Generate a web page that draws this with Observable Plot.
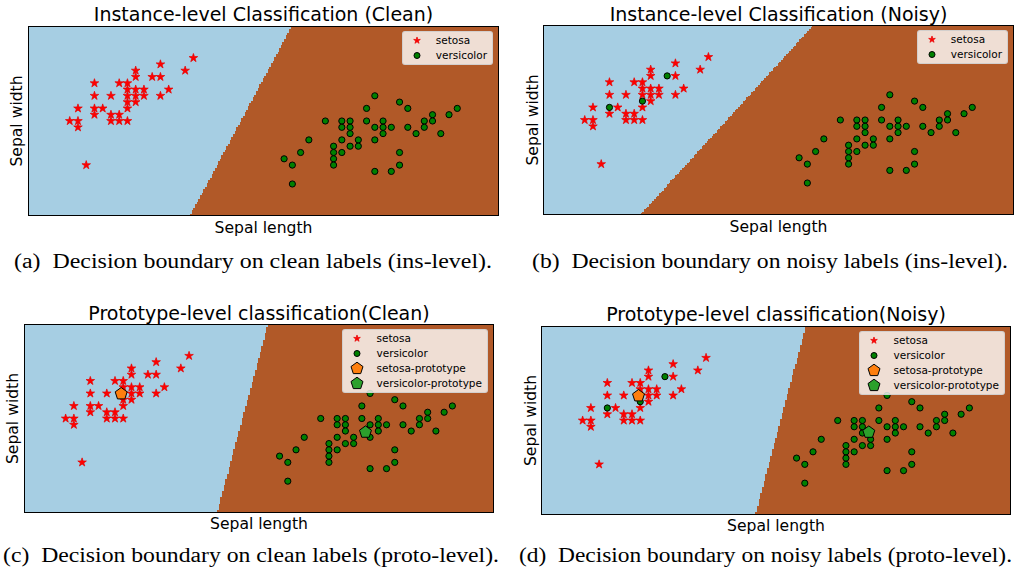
<!DOCTYPE html>
<html><head><meta charset="utf-8">
<script src="https://cdn.jsdelivr.net/npm/d3@7"></script>
<script src="https://cdn.jsdelivr.net/npm/@observablehq/plot@0.6"></script>
<style>
html,body{margin:0;padding:0;background:#fff;}
body{width:1015px;height:569px;overflow:hidden;position:relative;font-family:"DejaVu Sans";}
.panel{position:absolute;}
.panel svg{overflow:visible;}
.legend{position:absolute;background:rgba(255,255,255,0.8);border:1px solid rgba(204,204,204,0.8);border-radius:3px;padding:1px 5px 1px 33px;font:10.5px "DejaVu Sans";color:#000;}
.legend .row{position:relative;height:15px;line-height:15px;white-space:nowrap;}
.legend .row svg{position:absolute;left:-29px;top:0;overflow:visible;}
.caption{position:absolute;font-family:"Liberation Serif","Times New Roman",serif;white-space:pre;color:#000;line-height:1;transform-origin:0 0;}
</style></head><body>
<script>
// ---- data ----
const xDomain = [3.8, 9.5];   // sepal length (plot units)
const yDomain = [1.5, 4.5];   // sepal width
const classes = ["setosa", "versicolor"];
const regionColors = ["#a6cee3", "#b15928"];

const setosaLength = [5.8, 5.4, 5.1, 5.7, 5.1, 5.3, 5.4, 4.6, 4.9, 5.0, 5.0, 5.1, 5.2, 5.5, 4.6, 4.8, 5.0, 5.1, 5.2, 5.4, 5.0, 5.1, 4.4, 4.6, 4.7, 5.0, 4.6, 4.8, 4.9, 4.3, 4.4, 4.8, 4.9, 5.0, 4.4, 4.5];
const setosaWidth  = [4.0, 3.9, 3.8, 3.8, 3.7, 3.7, 3.7, 3.6, 3.6, 3.6, 3.5, 3.5, 3.5, 3.5, 3.4, 3.4, 3.4, 3.4, 3.4, 3.4, 3.3, 3.3, 3.2, 3.2, 3.2, 3.2, 3.1, 3.1, 3.1, 3.0, 3.0, 3.0, 3.0, 3.0, 2.9, 2.3];

const versicolorLength = [8.0, 8.3, 7.9, 8.4, 9.0, 8.7, 8.9, 7.4, 7.6, 7.7, 7.9, 8.1, 8.6, 8.7, 7.6, 7.7, 8.0, 8.1, 8.2, 8.4, 8.6, 7.7, 8.1, 8.5, 8.8, 7.2, 7.6, 7.8, 8.0, 7.5, 7.7, 7.8, 7.1, 7.5, 7.6, 8.3, 6.9, 7.5, 7.0, 7.5, 8.3, 8.0, 8.2, 7.0];
const versicolorWidth  = [3.4, 3.3, 3.2, 3.2, 3.2, 3.1, 3.1, 3.0, 3.0, 3.0, 3.0, 3.0, 3.0, 3.0, 2.9, 2.9, 2.9, 2.9, 2.9, 2.9, 2.9, 2.8, 2.8, 2.8, 2.8, 2.7, 2.7, 2.7, 2.7, 2.6, 2.6, 2.6, 2.5, 2.5, 2.5, 2.5, 2.4, 2.4, 2.3, 2.3, 2.3, 2.2, 2.2, 2.0];

// setosa samples whose label is flipped to versicolor in the noisy panels
const flippedLength = [5.3, 5.0, 4.6];
const flippedWidth  = [3.7, 3.3, 3.2];

// decision boundary: x where the boundary meets the top (y=4.5) and bottom (y=1.5) of the frame
const boundaryTopX    = {a: 6.99, b: 7.07, c: 6.76, d: 7.01};
const boundaryBottomX = {a: 5.76, b: 4.98, c: 6.14, d: 6.40};

// prototypes (panels c, d)
const setosaProto     = {c: [4.975, 3.394], d: [4.979, 3.394]};
const versicolorProto = {c: [7.944, 2.782], d: [7.778, 2.813]};

const titles = {
  a: "Instance-level Classification (Clean)",
  b: "Instance-level Classification (Noisy)",
  c: "Prototype-level classification(Clean)",
  d: "Prototype-level classification(Noisy)"
};
const captions = {
  a: "(a)\u2002Decision boundary on clean labels (ins-level).",
  b: "(b)\u2002Decision boundary on noisy labels (ins-level).",
  c: "(c)\u2002Decision boundary on clean labels (proto-level).",
  d: "(d)\u2002Decision boundary on noisy labels (proto-level)."
};
const xLabel = "Sepal length";
const yLabel = "Sepal width";

// ---- layout ----
const layout = {
  a: {left: 0,   top: 0,   w: 510, h: 240, m: [26, 12, 25, 28], tdy: -11.4, xdy: 12.3, ydx: -11.5, noisy: false, proto: false},
  b: {left: 505, top: 0,   w: 510, h: 240, m: [25, 2, 26, 38],  tdy: -10.4, xdy: 12.7, ydx: -10.7, noisy: true,  proto: false},
  c: {left: 0,   top: 290, w: 510, h: 250, m: [34, 17, 28, 24], tdy: -10.8, xdy: 11.3, ydx: -11.7, noisy: false, proto: true},
  d: {left: 505, top: 290, w: 510, h: 250, m: [36, 5, 26, 36],  tdy: -11.4, xdy: 11.7, ydx: -11.0, noisy: true,  proto: true}
};
const captionPos = {
  a: {left: 14,  base: 268, width: 478},
  b: {left: 532, base: 268, width: 476},
  c: {left: 3,   base: 562, width: 496},
  d: {left: 519, base: 562, width: 493}
};

const pentagon = {
  draw(context, size) {
    const R = Math.sqrt(size / Math.PI);
    for (let i = 0; i < 5; i++) {
      const a = -Math.PI / 2 + i * 2 * Math.PI / 5;
      const x = R * Math.cos(a), y = R * Math.sin(a);
      if (i === 0) context.moveTo(x, y); else context.lineTo(x, y);
    }
    context.closePath();
  }
};

const zip = (xs, ys) => xs.map((x, i) => ({x, y: ys[i]}));
const setosaAll = zip(setosaLength, setosaWidth);
const versiAll = zip(versicolorLength, versicolorWidth);
const flipped = zip(flippedLength, flippedWidth);
const isFlipped = p => flipped.some(f => f.x === p.x && f.y === p.y);

const STAR = {fill: "#ff0000", stroke: "#e60000", strokeWidth: 0.7};
const CIRC = {fill: "#008000", stroke: "#000", strokeWidth: 1};
const MID = {textAnchor: "middle", lineAnchor: "middle", fill: "#000"};

for (const id of ["a", "b", "c", "d"]) {
  const L = layout[id];
  const setosa = L.noisy ? setosaAll.filter(p => !isFlipped(p)) : setosaAll;
  const versi = L.noisy ? versiAll.concat(flipped) : versiAll;
  const xt = boundaryTopX[id], xb = boundaryBottomX[id];
  const bx = y => xb + (xt - xb) * (y - yDomain[0]) / (yDomain[1] - yDomain[0]);
  const marks = [
    Plot.raster({
      x1: xDomain[0], x2: xDomain[1], y1: yDomain[0], y2: yDomain[1],
      width: 285, height: 150, imageRendering: "pixelated",
      fill: (x, y) => (x < bx(y) ? classes[0] : classes[1])
    }),
    Plot.dot(setosa, {x: "x", y: "y", symbol: "star", r: 2.7, ...STAR}),
    Plot.dot(versi, {x: "x", y: "y", symbol: "circle", r: 3.1, ...CIRC})
  ];
  if (L.proto) {
    marks.push(Plot.dot([setosaProto[id]], {x: d => d[0], y: d => d[1], symbol: pentagon, r: 6.3, fill: "#ff7f0e", stroke: "#000", strokeWidth: 1}));
    marks.push(Plot.dot([versicolorProto[id]], {x: d => d[0], y: d => d[1], symbol: pentagon, r: 6.3, fill: "#2ca02c", stroke: "#000", strokeWidth: 1}));
  }
  marks.push(
    Plot.frame({stroke: "#000", strokeWidth: 1}),
    Plot.text([titles[id]], {frameAnchor: "top", dy: L.tdy, fontSize: 19, ...MID}),
    Plot.text([xLabel], {frameAnchor: "bottom", dy: L.xdy, fontSize: 15.6, ...MID}),
    Plot.text([yLabel], {frameAnchor: "left", dx: L.ydx, rotate: -90, fontSize: 15.6, ...MID})
  );
  const chart = Plot.plot({
    width: L.w, height: L.h,
    marginTop: L.m[0], marginRight: L.m[1], marginBottom: L.m[2], marginLeft: L.m[3],
    x: {domain: xDomain, axis: null},
    y: {domain: yDomain, axis: null},
    color: {type: "ordinal", domain: classes, range: regionColors},
    style: {fontFamily: "DejaVu Sans", background: "transparent", overflow: "visible"},
    marks
  });
  const div = document.createElement("div");
  div.className = "panel";
  div.style.left = L.left + "px";
  div.style.top = L.top + "px";
  div.appendChild(chart);
  document.body.appendChild(div);

  // legend (matplotlib-style box, upper right)
  const leg = document.createElement("div");
  leg.className = "legend";
  const frameRight = L.left + L.w - L.m[1];
  const frameTop = L.top + L.m[0];
  leg.style.right = (1015 - frameRight + 5) + "px";
  leg.style.top = (frameTop + 5) + "px";
  const starPath = d3.symbol(d3.symbolStar, 14)();
  const circPath = d3.symbol(d3.symbolCircle, Math.PI * 9)();
  const pentPath = d3.symbol(pentagon, Math.PI * 6.3 * 6.3)();
  const rows = [
    [classes[0], `<path d="${starPath}" fill="#ff0000" stroke="#e60000" stroke-width="0.7"/>`],
    [classes[1], `<path d="${circPath}" fill="#008000" stroke="#000" stroke-width="1"/>`]
  ];
  if (L.proto) {
    rows.push(["setosa-prototype", `<path d="${pentPath}" fill="#ff7f0e" stroke="#000" stroke-width="1"/>`]);
    rows.push(["versicolor-prototype", `<path d="${pentPath}" fill="#2ca02c" stroke="#000" stroke-width="1"/>`]);
  }
  for (const [label, sym] of rows) {
    const r = document.createElement("div");
    r.className = "row";
    r.innerHTML = `<svg width="20" height="15"><g transform="translate(10,7.5)">${sym}</g></svg>`;
    r.appendChild(document.createTextNode(label));
    leg.appendChild(r);
  }
  document.body.appendChild(leg);

  // caption
  const cp = captionPos[id];
  const cap = document.createElement("div");
  cap.className = "caption";
  const fs = 20.5;
  cap.style.fontSize = fs + "px";
  cap.textContent = captions[id];
  cap.style.left = cp.left + "px";
  cap.style.top = (cp.base - 0.8375 * fs) + "px";
  document.body.appendChild(cap);
  const w = cap.getBoundingClientRect().width;
  cap.style.transform = `scaleX(${cp.width / w})`;
}
</script>
</body></html>
